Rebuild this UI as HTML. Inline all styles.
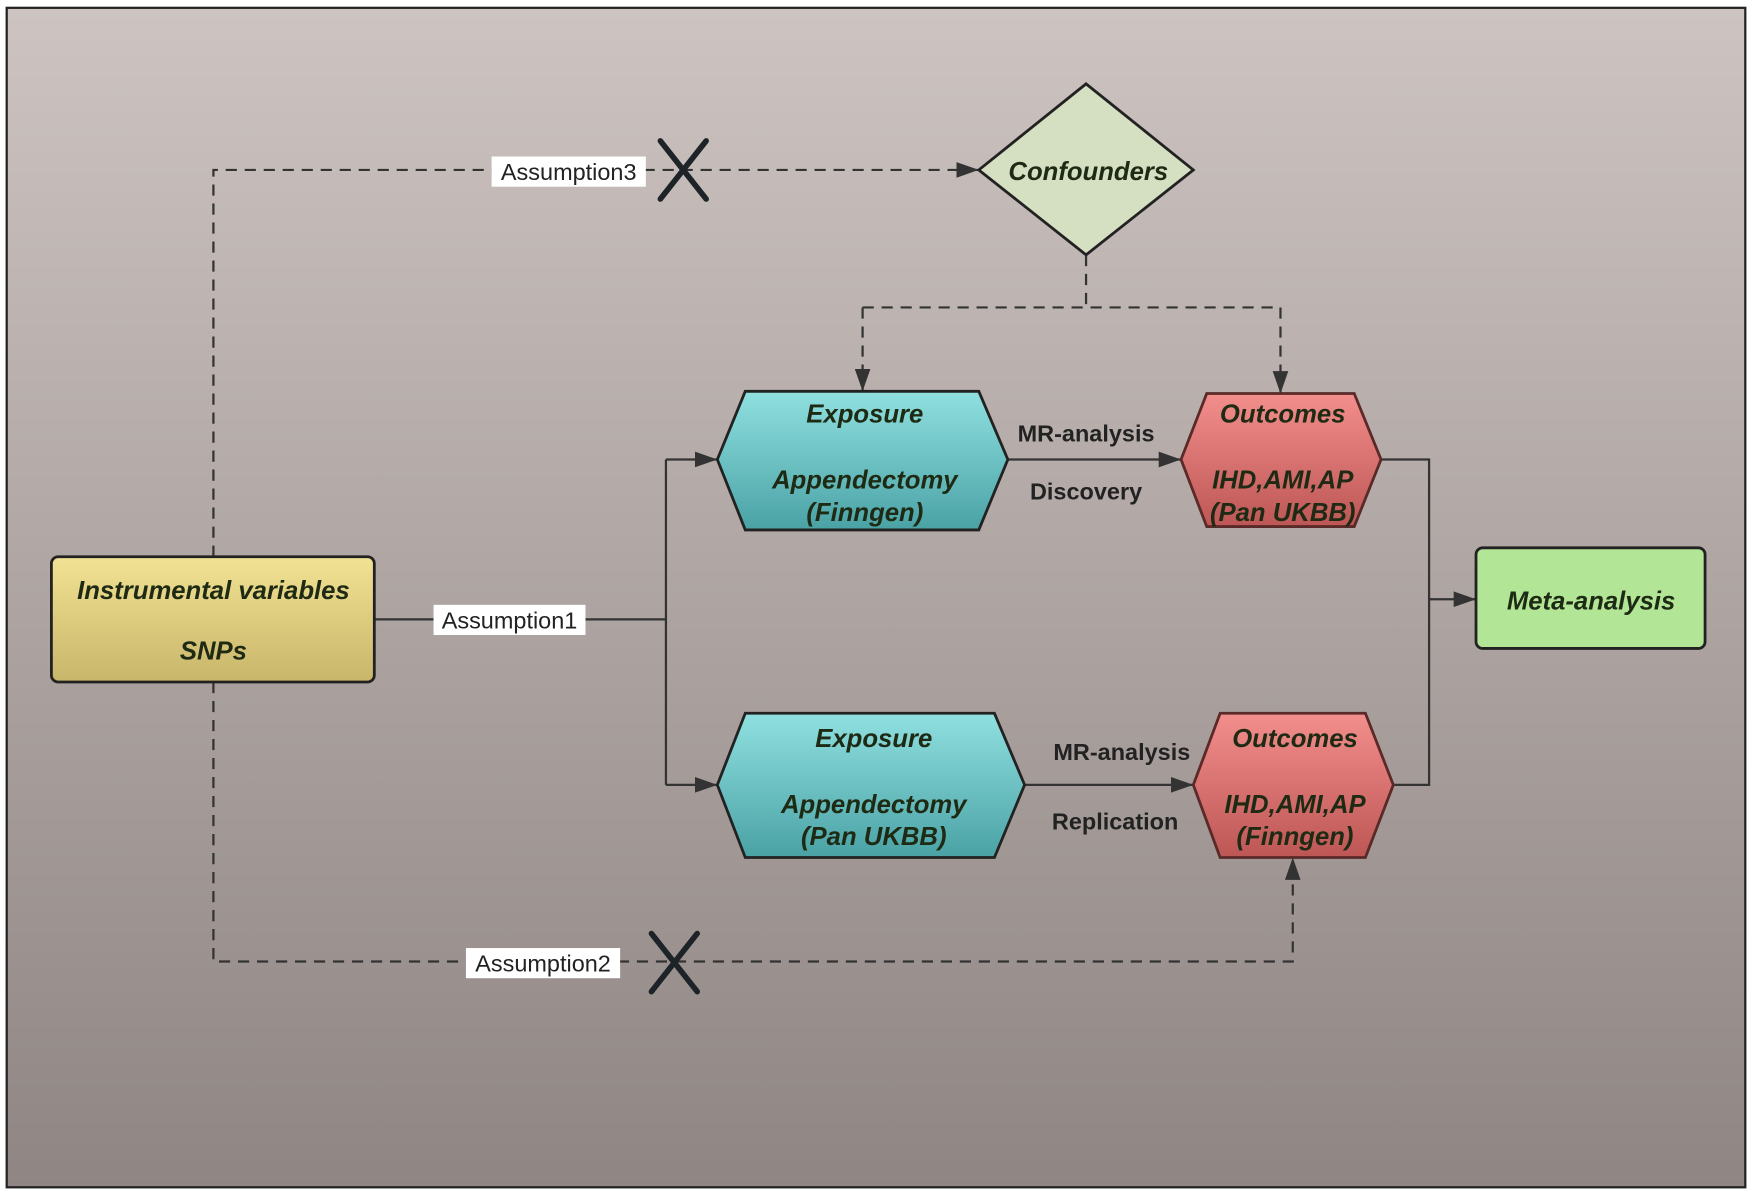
<!DOCTYPE html>
<html><head><meta charset="utf-8"><style>
html,body{margin:0;padding:0;background:#fff;}
svg{display:block;}
text{font-family:"Liberation Sans",sans-serif;}
.n{font-weight:bold;font-style:italic;font-size:23px;fill:#1e2a14;text-anchor:middle;}
.l{font-weight:bold;font-size:21px;fill:#222;text-anchor:middle;}
.a{font-size:21px;fill:#222;text-anchor:middle;}
</style></head><body>
<svg width="1752" height="1194" viewBox="0 0 1568 1068" preserveAspectRatio="none" xmlns="http://www.w3.org/2000/svg">
<defs>
<linearGradient id="bg" x1="0" y1="0" x2="0" y2="1"><stop offset="0" stop-color="#cdc4c1"/><stop offset="1" stop-color="#8f8684"/></linearGradient>
<linearGradient id="ye" x1="0" y1="0" x2="0" y2="1"><stop offset="0" stop-color="#f2e293"/><stop offset="1" stop-color="#c8b66a"/></linearGradient>
<linearGradient id="te" x1="0" y1="0" x2="0" y2="1"><stop offset="0" stop-color="#90e0e0"/><stop offset="1" stop-color="#4aa2a5"/></linearGradient>
<linearGradient id="re" x1="0" y1="0" x2="0" y2="1"><stop offset="0" stop-color="#f28e8c"/><stop offset="1" stop-color="#bd5755"/></linearGradient>
<marker id="ar" markerWidth="10" markerHeight="10" refX="9" refY="5" orient="auto" markerUnits="userSpaceOnUse"><path d="M0,0 L18,5 L0,10 z" fill="#333" transform="scale(0.55,1)"/></marker>
<marker id="ah" viewBox="0 0 20 14" markerWidth="20" markerHeight="14" refX="20" refY="7" orient="auto" markerUnits="userSpaceOnUse"><path d="M0,0 L20,7 L0,14 z" fill="#333"/></marker>
</defs>
<rect x="6" y="7" width="1556" height="1055" fill="url(#bg)" stroke="#222" stroke-width="2"/>
<g fill="none" stroke="#333" stroke-width="2">
<!-- dashed -->
<polyline points="191,498 191,152 876,152" stroke-dasharray="10,7" marker-end="url(#ah)"/>
<polyline points="972,228 972,275" stroke-dasharray="10,7"/>
<polyline points="772,275 1146,275" stroke-dasharray="10,7"/>
<polyline points="772,275 772,350" stroke-dasharray="10,7" marker-end="url(#ah)"/>
<polyline points="1146,275 1146,352" stroke-dasharray="10,7" marker-end="url(#ah)"/>
<polyline points="191,610 191,860 1157,860 1157,767" stroke-dasharray="10,7" marker-end="url(#ah)"/>
<!-- solid -->
<polyline points="335,554 596,554"/>
<polyline points="596,411 596,702"/>
<polyline points="596,411 642,411" marker-end="url(#ah)"/>
<polyline points="596,702 642,702" marker-end="url(#ah)"/>
<polyline points="902,411 1057,411" marker-end="url(#ah)"/>
<polyline points="917,702 1068,702" marker-end="url(#ah)"/>
<polyline points="1236,411 1279,411 1279,702 1247,702"/>
<polyline points="1279,536 1321,536" marker-end="url(#ah)"/>
</g>
<!-- nodes -->
<rect x="46" y="498" width="289" height="112" rx="6" fill="url(#ye)" stroke="#222" stroke-width="2.5"/>
<text class="n" x="191" y="536">Instrumental variables</text>
<text class="n" x="191" y="590">SNPs</text>
<polygon points="972,75 1068,152 972,228 876,152" fill="#d5e0c2" stroke="#222" stroke-width="2.5"/>
<text class="n" x="974" y="161">Confounders</text>
<polygon points="667,350 876,350 902,411 876,474 667,474 642,411" fill="url(#te)" stroke="#222" stroke-width="2.5"/>
<text class="n" x="774" y="378">Exposure</text>
<text class="n" x="774" y="437">Appendectomy</text>
<text class="n" x="774" y="466">(Finngen)</text>
<polygon points="1080,352 1212,352 1236,411 1212,471 1080,471 1057,411" fill="url(#re)" stroke="#5a2a28" stroke-width="2.5"/>
<text class="n" x="1148" y="378">Outcomes</text>
<text class="n" x="1148" y="437">IHD,AMI,AP</text>
<text class="n" x="1148" y="466">(Pan UKBB)</text>
<polygon points="667,638 890,638 917,702 890,767 667,767 642,702" fill="url(#te)" stroke="#222" stroke-width="2.5"/>
<text class="n" x="782" y="668">Exposure</text>
<text class="n" x="782" y="727">Appendectomy</text>
<text class="n" x="782" y="756">(Pan UKBB)</text>
<polygon points="1092,638 1222,638 1247,702 1222,767 1092,767 1068,702" fill="url(#re)" stroke="#5a2a28" stroke-width="2.5"/>
<text class="n" x="1159" y="668">Outcomes</text>
<text class="n" x="1159" y="727">IHD,AMI,AP</text>
<text class="n" x="1159" y="756">(Finngen)</text>
<rect x="1321" y="490" width="205" height="90" rx="6" fill="#b2e696" stroke="#222" stroke-width="2.5"/>
<text class="n" x="1424" y="545">Meta-analysis</text>
<!-- edge labels -->
<text class="l" x="972" y="395">MR-analysis</text>
<text class="l" x="972" y="447">Discovery</text>
<text class="l" x="1004" y="680">MR-analysis</text>
<text class="l" x="998" y="742">Replication</text>
<rect x="440" y="140" width="138" height="27" fill="#fff"/>
<text class="a" x="509" y="161">Assumption3</text>
<rect x="388" y="541" width="136" height="27" fill="#fff"/>
<text class="a" x="456" y="562">Assumption1</text>
<rect x="417" y="848" width="138" height="27" fill="#fff"/>
<text class="a" x="486" y="869">Assumption2</text>
<!-- crosses -->
<g stroke="#1e2328" stroke-width="5" stroke-linecap="round">
<line x1="591" y1="126" x2="632" y2="178"/><line x1="632" y1="126" x2="591" y2="178"/>
<line x1="583" y1="835" x2="624" y2="887"/><line x1="624" y1="835" x2="583" y2="887"/>
</g>
</svg>
</body></html>
